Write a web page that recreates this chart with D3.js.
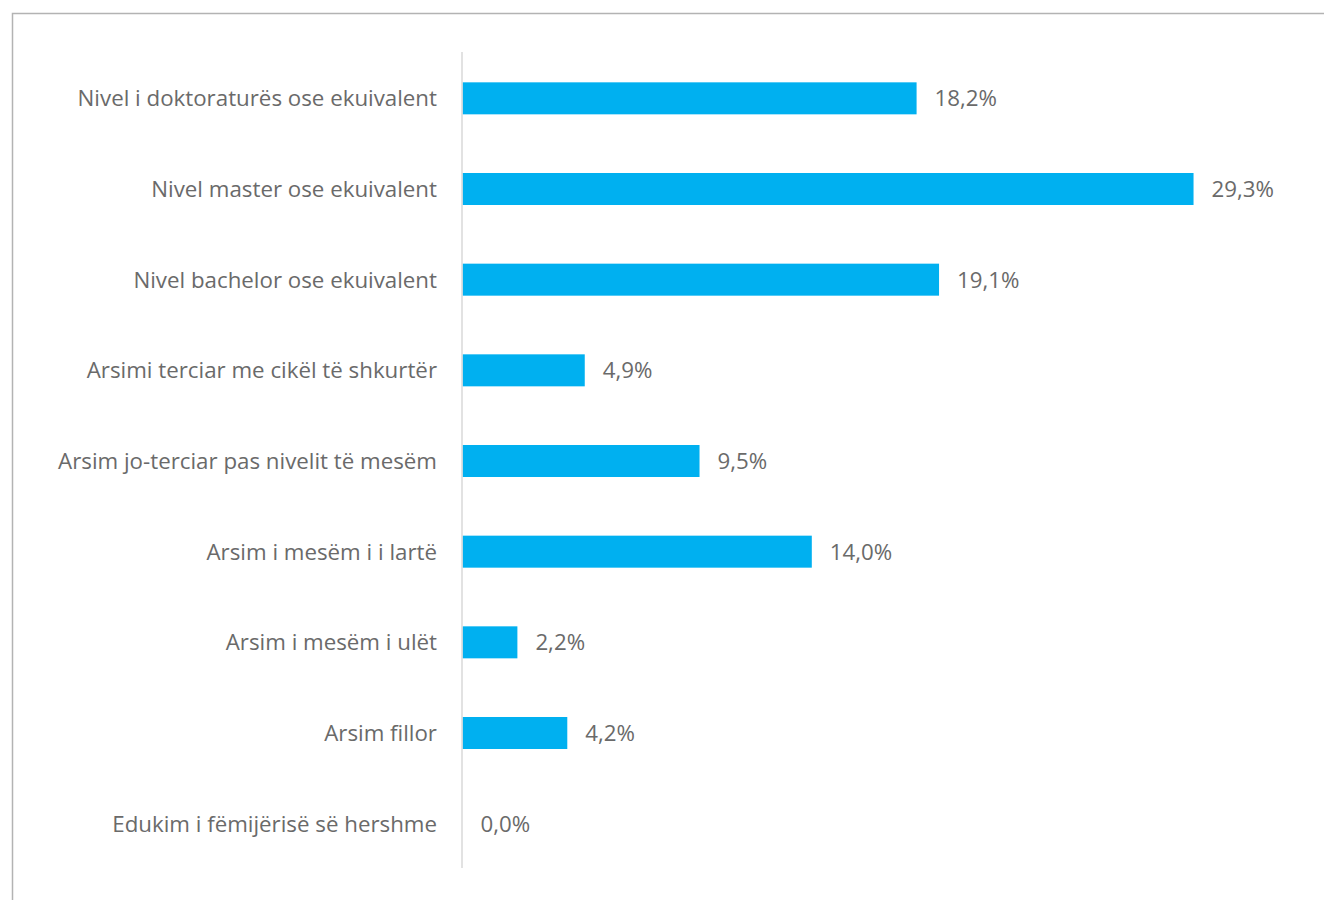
<!DOCTYPE html>
<html><head><meta charset="utf-8">
<script src="https://cdn.jsdelivr.net/npm/d3@7"></script>
<style>html,body{margin:0;padding:0;background:#fff;}svg{display:block;}</style>
</head><body>
<svg id="chart" width="1324" height="900"></svg>
<script>
const categories = [
  "Nivel i doktoraturës ose ekuivalent",
  "Nivel master ose ekuivalent",
  "Nivel bachelor ose ekuivalent",
  "Arsimi terciar me cikël të shkurtër",
  "Arsim jo-terciar pas nivelit të mesëm",
  "Arsim i mesëm i i lartë",
  "Arsim i mesëm i ulët",
  "Arsim fillor",
  "Edukim i fëmijërisë së hershme"
];
const values = [18.2, 29.3, 19.1, 4.9, 9.5, 14.0, 2.2, 4.2, 0.0];
const valueLabels = ["18,2%", "29,3%", "19,1%", "4,9%", "9,5%", "14,0%", "2,2%", "4,2%", "0,0%"];

const svg = d3.select("#chart");
const font = "'Open Sans', sans-serif";

// outer border
svg.append("rect").attr("x", 12.5).attr("y", 13.5).attr("width", 1330).attr("height", 900)
  .attr("fill", "none").attr("stroke", "#b3b3b3").attr("stroke-width", 1.5);

const x = d3.scaleLinear().domain([0, 30]).range([462.5, 1211]);
const y = d3.scaleBand().domain(categories).range([53, 869]).paddingInner(0.647).paddingOuter(0.3235);

svg.selectAll("rect.bar").data(values).enter().append("rect")
  .attr("class", "bar")
  .attr("x", x(0))
  .attr("y", (d, i) => y(categories[i]))
  .attr("width", d => x(d) - x(0))
  .attr("height", y.bandwidth())
  .attr("fill", "#00B0F0");

// axis line
svg.append("line").attr("x1", 462).attr("x2", 462).attr("y1", 52).attr("y2", 868)
  .attr("stroke", "#d9d9d9").attr("stroke-width", 1.5);

// category labels
const yAxis = d3.axisLeft(y).tickSize(0).tickPadding(0);
const gy = svg.append("g").attr("transform", "translate(437,0)").call(yAxis);
gy.select(".domain").remove();
gy.selectAll("text").attr("font-family", font).attr("font-size", 22.3).attr("fill", "#6a6a6a")
  .attr("dy", "0.36em");

// value labels
svg.selectAll("text.val").data(values).enter().append("text")
  .attr("class", "val")
  .attr("x", d => x(d) + 18)
  .attr("y", (d, i) => y(categories[i]) + y.bandwidth() / 2)
  .attr("dy", "0.36em")
  .attr("font-family", font).attr("font-size", 22.3).attr("fill", "#6a6a6a")
  .text((d, i) => valueLabels[i]);
</script>
</body></html>
